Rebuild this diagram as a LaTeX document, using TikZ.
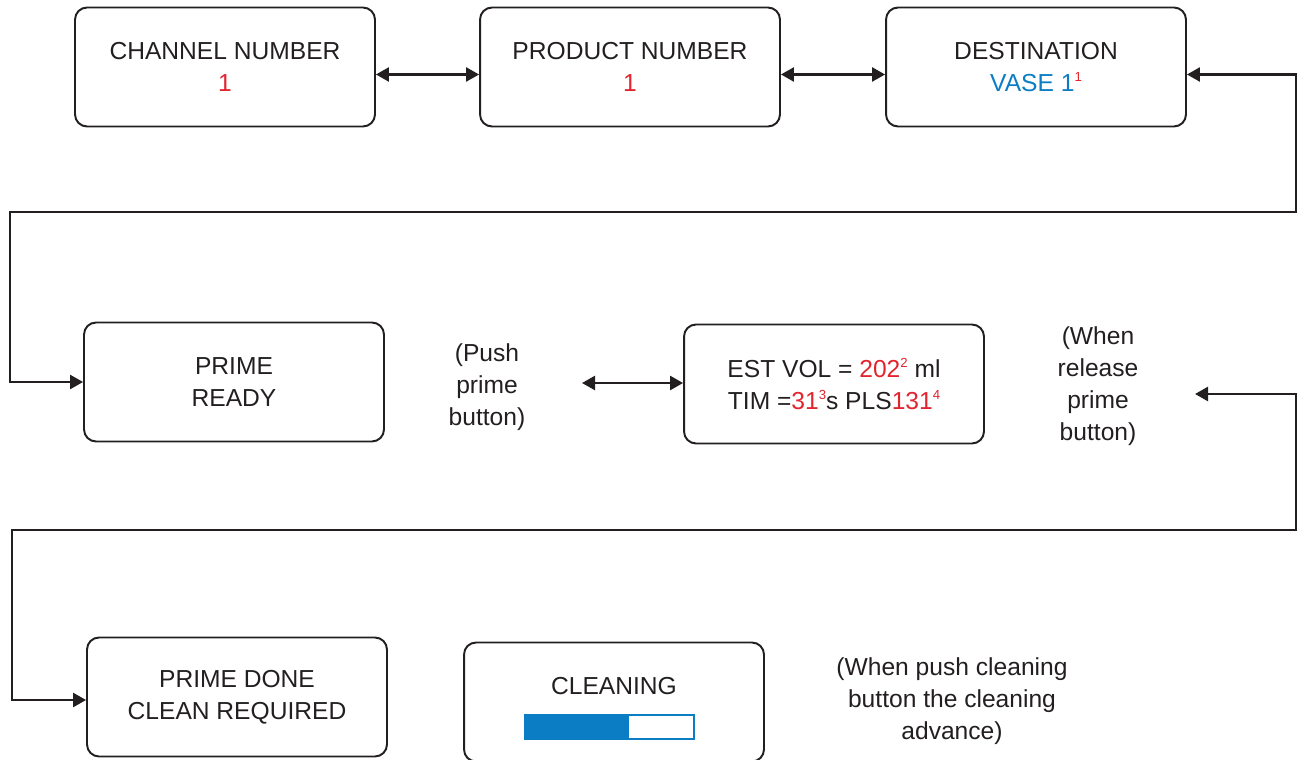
\documentclass[tikz,border=0pt]{standalone}
\usepackage{fontspec}
\setmainfont{Liberation Sans}
\usetikzlibrary{arrows.meta}
\definecolor{ink}{HTML}{231F20}
\definecolor{hot}{HTML}{E1242E}
\definecolor{cool}{HTML}{0A7DC4}
\newcommand{\footmark}[1]{\raisebox{0.75ex}{\fontsize{7.5}{7.5}\selectfont #1}}

\begin{document}
\begin{tikzpicture}[
    x=0.02cm, y=-0.02cm,
    every node/.style={font=\fontsize{14}{18.2}\selectfont, text=ink},
    screen/.style={draw=ink, line width=1.1pt, rounded corners=0.24cm,
        minimum width=6cm, minimum height=2.38cm, align=center},
    note/.style={align=center},
    link/.style={draw=ink, line width=1.4pt,
        {Triangle[length=0.26cm, width=0.28cm]}-{Triangle[length=0.26cm, width=0.28cm]}},
]
\clip (0,0) rectangle (1298,760);

% first row
\node[screen] (channel) at (225,67) {CHANNEL NUMBER\\\textcolor{hot}{1}};
\node[screen] (product) at (630,67) {PRODUCT NUMBER\\\textcolor{hot}{1}};
\node[screen] (dest) at (1036,67)
     {DESTINATION\\\textcolor{cool}{VASE 1}\textcolor{hot}{\footmark{1}}};

\draw[link] ([yshift=-0.15cm]channel.east) -- ([yshift=-0.15cm]product.west);
\draw[link] ([yshift=-0.15cm]product.east) -- ([yshift=-0.15cm]dest.west);

% second row
\node[screen] (ready) at (234,382) {PRIME\\READY};
\node[note] (push) at (487,387) {(Push\\prime\\button)};
\node[screen] (estvol) at (834,384)
     {EST VOL = \textcolor{hot}{202\footmark{2}} ml\\
      TIM =\textcolor{hot}{31\footmark{3}}s PLS\textcolor{hot}{131\footmark{4}}};
\node[note] (release) at (1098,386) {(When\\release\\prime\\button)};

\coordinate (pushend) at (582,383);
\draw[link] (pushend) -- (estvol.west |- pushend);

\draw[link] ([yshift=-0.15cm]dest.east) -| (1296,212) -| (10,382) -- (ready.west);

% third row
\node[screen] (done) at (237,697) {PRIME DONE\\CLEAN REQUIRED};
\node[screen] (clean) at (614,702) {};
\node (cleantxt) at ([yshift=0.32cm]clean.center) {CLEANING};
\node[note] (advance) at (952,701)
     {(When push cleaning\\button the cleaning\\advance)};

\fill[cool] ([shift={(-90,12)}]clean.center) rectangle ([shift={(14,38)}]clean.center);
\draw[cool, line width=0.9pt, fill=white]
     ([shift={(14,13)}]clean.center) rectangle ([shift={(80,37)}]clean.center);

\coordinate (releaseend) at (1195,394);
\draw[link] (releaseend) -| (1296,530) -| (12,700) -- (done.west |- 0,700);
\end{tikzpicture}
\end{document}
